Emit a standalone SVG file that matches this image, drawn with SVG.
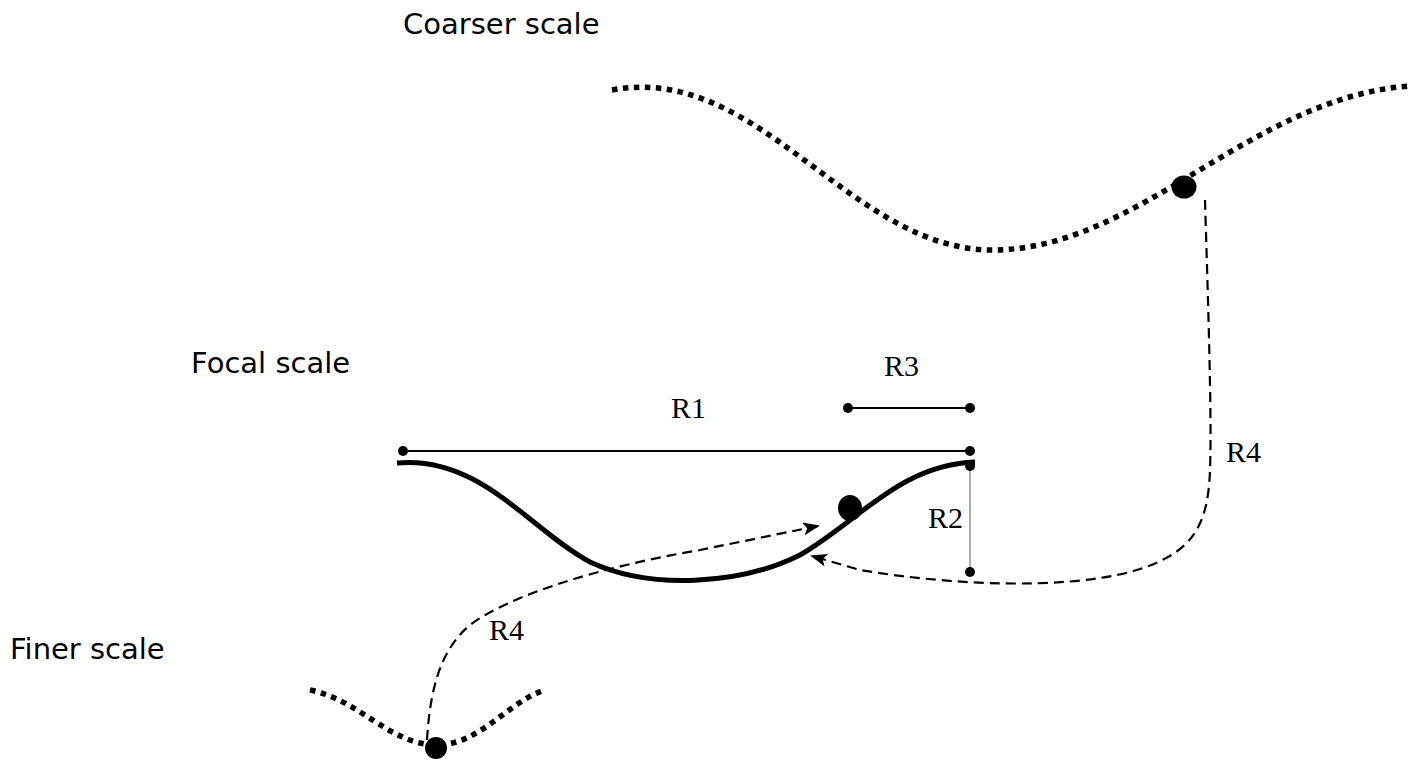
<svg xmlns="http://www.w3.org/2000/svg" width="1409" height="760" viewBox="0 0 1409 760">
<style>
.lbl{font-family:"DejaVu Sans","Liberation Sans",sans-serif;font-size:29px;fill:#000}
.r{font-family:"Liberation Serif","Times New Roman",serif;font-size:30px;fill:#000}
.dot{fill:none;stroke:#000;stroke-width:5.5;stroke-dasharray:5.5 5.5}
.dash{fill:none;stroke:#000;stroke-width:2.2;stroke-dasharray:10 6}
.thick{fill:none;stroke:#000;stroke-width:5}
.thin{stroke:#000;stroke-width:1.8}
</style>
<defs>
<marker id="arr" markerWidth="17" markerHeight="13" refX="15" refY="6.5" orient="auto" markerUnits="userSpaceOnUse">
<path d="M0,0 L17,6.5 L0,13 L4,6.5 Z" fill="#000"/>
</marker>
</defs>
<rect width="1409" height="760" fill="#fff"/>
<g id="labels">
<text class="lbl" x="403" y="34">Coarser scale</text>
<text class="lbl" x="191" y="373">Focal scale</text>
<text class="lbl" x="10" y="659">Finer scale</text>
</g>
<g id="coarser">
<path class="dot" d="M612,90 C760,62 850,252 995,250 C1140,248 1250,98 1409,86"/>
<ellipse cx="1184" cy="187" rx="12.5" ry="11.5"/>
</g>
<g id="focal">
<path class="thick" d="M397,463 C480,455 530,530 590,562 C650,590 740,585 800,555 C860,520 900,465 975,462"/>
<ellipse cx="850" cy="508" rx="12" ry="13"/>
</g>
<g id="finer">
<path class="dot" d="M310,690 C360,700 390,745 437,745 C480,745 510,700 545,690"/>
<ellipse cx="436" cy="748" rx="11" ry="11"/>
</g>
<g id="R1">
<line class="thin" x1="403" y1="451" x2="970" y2="451"/>
<circle cx="403" cy="451" r="5"/><circle cx="970" cy="451" r="5"/>
<text class="r" x="671" y="418">R1</text>
</g>
<g id="R3">
<line class="thin" x1="848" y1="408" x2="970" y2="408"/>
<circle cx="848" cy="408" r="5"/><circle cx="970" cy="408" r="5"/>
<text class="r" x="884" y="376">R3</text>
</g>
<g id="R2">
<line x1="970" y1="465" x2="970" y2="572" stroke="#777" stroke-width="1.2"/>
<circle cx="970" cy="466" r="5"/><circle cx="970" cy="572" r="5"/>
<text class="r" x="928" y="528">R2</text>
</g>
<g id="connectors">
<path class="dash" marker-end="url(#arr)" d="M1205,200 C1208,300 1212,420 1210,470 C1208,530 1190,555 1130,572 C1060,590 950,585 860,570 L812,556"/>
<path class="dash" marker-end="url(#arr)" d="M427,740 C430,690 440,650 470,625 C510,595 600,567 700,550 L818,526"/>
<text class="r" x="1226" y="462">R4</text>
<text class="r" x="489" y="640">R4</text>
</g>
</svg>
